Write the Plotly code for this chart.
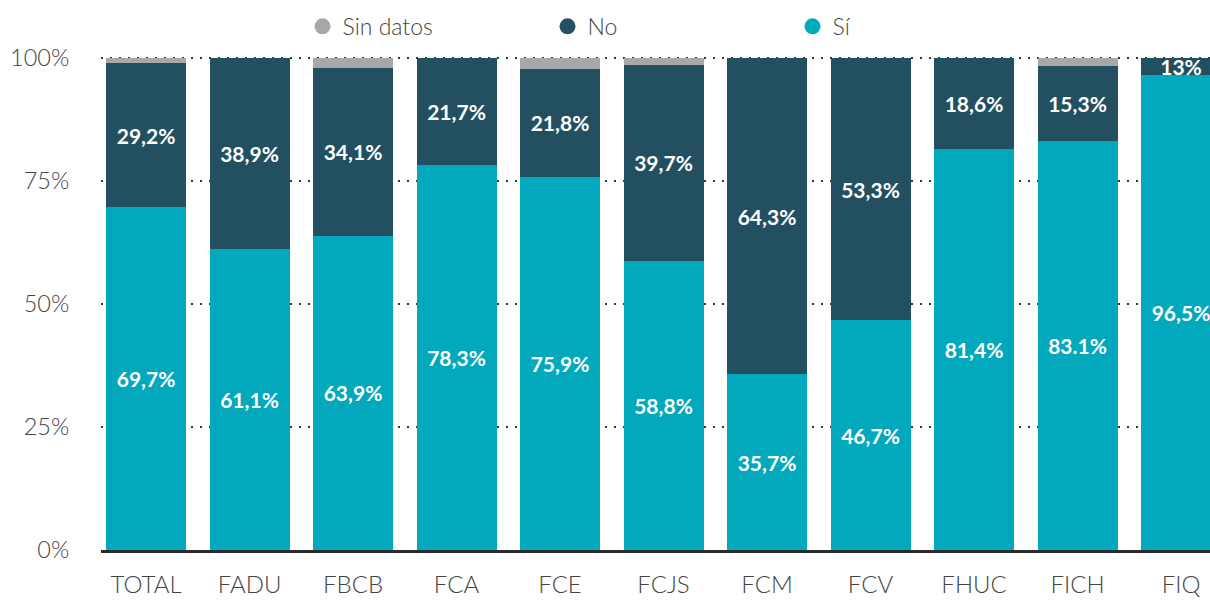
import plotly.graph_objects as go

categories = ["TOTAL", "FADU", "FBCB", "FCA", "FCE", "FCJS", "FCM", "FCV", "FHUC", "FICH", "FIQ"]
si_values = [69.7, 61.1, 63.9, 78.3, 75.9, 58.8, 35.7, 46.7, 81.4, 83.1, 96.5]
no_values = [29.2, 38.9, 34.1, 21.7, 21.8, 39.7, 64.3, 53.3, 18.6, 15.3, 3.5]
sd_values = [1.1, 0.0, 2.0, 0.0, 2.3, 1.5, 0.0, 0.0, 0.0, 1.6, 0.0]
si_labels = ["69,7%", "61,1%", "63,9%", "78,3%", "75,9%", "58,8%", "35,7%", "46,7%", "81,4%", "83.1%", "96,5%"]
no_labels = ["29,2%", "38,9%", "34,1%", "21,7%", "21,8%", "39,7%", "64,3%", "53,3%", "18,6%", "15,3%", "13%"]
y_ticks = [0, 25, 50, 75, 100]
y_tick_labels = ["0%", "25%", "50%", "75%", "100%"]

C_SI = "#02A8BC"
C_NO = "#225061"
C_SD = "#A7A8AB"

label_font = dict(family="Lato", size=21, color="white", weight=700)

fig = go.Figure()
fig.add_trace(go.Bar(x=categories, y=si_values, marker=dict(color=C_SI, line=dict(width=0)),
                     text=si_labels,
                     textposition="inside", insidetextanchor="middle", textfont=label_font,
                     showlegend=False, hoverinfo="skip", cliponaxis=False))
fig.add_trace(go.Bar(x=categories, y=no_values, marker=dict(color=C_NO, line=dict(width=0)),
                     text=no_labels,
                     textposition="inside", insidetextanchor="middle", textfont=label_font,
                     showlegend=False, hoverinfo="skip", cliponaxis=False))
fig.add_trace(go.Bar(x=categories, y=sd_values, marker=dict(color=C_SD, line=dict(width=0)),
                     showlegend=False, hoverinfo="skip"))

# legend entries (circle markers)
for name, col in [("Sin datos", C_SD), ("No", C_NO), ("Sí", C_SI)]:
    fig.add_trace(go.Scatter(x=[None], y=[None], mode="markers", name=name,
                             marker=dict(symbol="circle", size=16, color=col)))

fig.update_layout(
    width=1210, height=614,
    barmode="stack", bargap=0.227,
    margin=dict(l=101, r=0, t=53, b=64, autoexpand=False),
    paper_bgcolor="white", plot_bgcolor="white",
    font=dict(family="Lato", color="#444444"),
    uniformtext=dict(minsize=21, mode="show"),
    showlegend=True,
    legend=dict(orientation="h", xref="container", yref="container",
                traceorder="normal",
                x=0.250, y=0.992, xanchor="left", yanchor="top",
                entrywidth=200, entrywidthmode="pixels",
                font=dict(family="Lato", size=23, color="#444444", weight=300),
                itemclick=False, itemdoubleclick=False),
    xaxis=dict(type="category", range=[-0.435, 10.28], automargin=False,
               showgrid=False, showline=True, linecolor="#2b2b2b", linewidth=3,
               ticks="outside", ticklen=11, tickcolor="rgba(0,0,0,0)",
               tickfont=dict(family="Lato", size=24, color="#444444", weight=300),
               fixedrange=True),
    yaxis=dict(range=[0, 101], tickvals=y_ticks, ticktext=y_tick_labels, automargin=False,
               showgrid=True, gridcolor="#333333", gridwidth=1.5, griddash="2px,7px",
               zeroline=False, showline=False,
               ticks="outside", ticklen=26, tickcolor="rgba(0,0,0,0)",
               tickfont=dict(family="Lato", size=23.5, color="#444444", weight=300),
               fixedrange=True),
)

fig.write_html("out.html", config={"displayModeBar": False},
               post_script="document.body.style.margin='0';document.body.style.overflow='hidden';")
